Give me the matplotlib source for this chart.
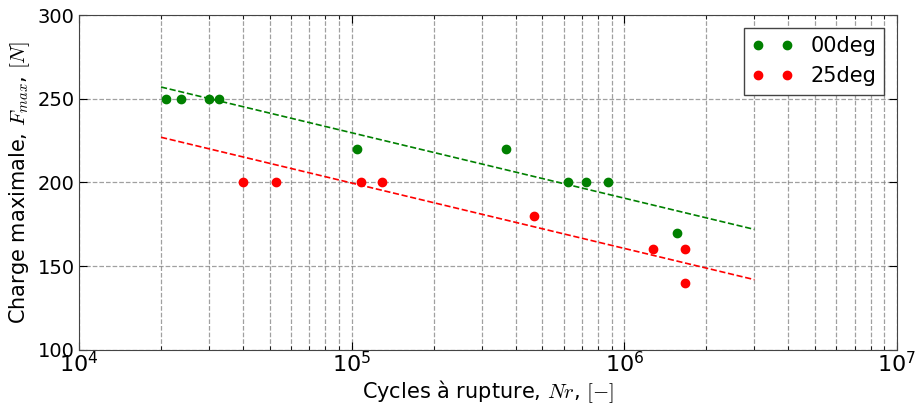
import matplotlib
matplotlib.use("Agg")
import matplotlib.pyplot as plt

plt.rcParams["mathtext.fontset"] = "cm"

# data
n_00 = [2.08e4, 2.37e4, 3.0e4, 3.27e4, 1.05e5, 3.69e5, 6.2e5, 7.26e5, 8.7e5, 1.56e6]
f_00 = [250, 250, 250, 250, 220, 220, 200, 200, 200, 170]
n_25 = [4.0e4, 5.27e4, 1.08e5, 1.29e5, 4.66e5, 1.27e6, 1.67e6, 1.67e6]
f_25 = [200, 200, 200, 200, 180, 160, 160, 140]

# fitted trend lines (end values)
fit_n = [2e4, 3e6]
fit_00 = [257, 172]
fit_25 = [227, 142]

fig = plt.figure(figsize=(9.15, 4.09), dpi=100)
ax = fig.add_axes([0.0863, 0.1443, 0.8940, 0.8190])

ax.plot(fit_n, fit_00, "--", color="green", lw=1.2)
ax.plot(fit_n, fit_25, "--", color="red", lw=1.2)
ax.plot(n_00, f_00, "o", color="green", mec="green", ms=6, label="00deg")
ax.plot(n_25, f_25, "o", color="red", mec="red", ms=6, label="25deg")

ax.set_xscale("log")
ax.set_xlim(1e4, 1e7)
ax.set_ylim(100, 300)
ax.set_yticks([100, 150, 200, 250, 300])
ax.grid(True, which="both", axis="x", color="gray", linestyle="--", lw=0.9, alpha=0.75)
ax.grid(True, which="major", axis="y", color="gray", linestyle="--", lw=0.9, alpha=0.75)

ax.tick_params(which="both", direction="in", top=True, right=True)
ax.tick_params(which="major", length=6)
ax.tick_params(which="minor", length=3)
ax.tick_params(axis="y", labelsize=14, pad=3)
ax.tick_params(axis="x", labelsize=16, pad=1)
for s in ax.spines.values():
    s.set_color("#444444")

ax.set_xlabel("Cycles à rupture, $Nr$, $[-]$", fontsize=15, labelpad=1)
ax.set_ylabel("Charge maximale, $F_{max}$, $[N]$", fontsize=15, labelpad=4)

leg = ax.legend(loc="upper right", numpoints=2, fontsize=15, fancybox=False,
                framealpha=1, borderaxespad=0.6)
leg.get_frame().set_edgecolor("#444444")

fig.savefig("out.png", dpi=100)
